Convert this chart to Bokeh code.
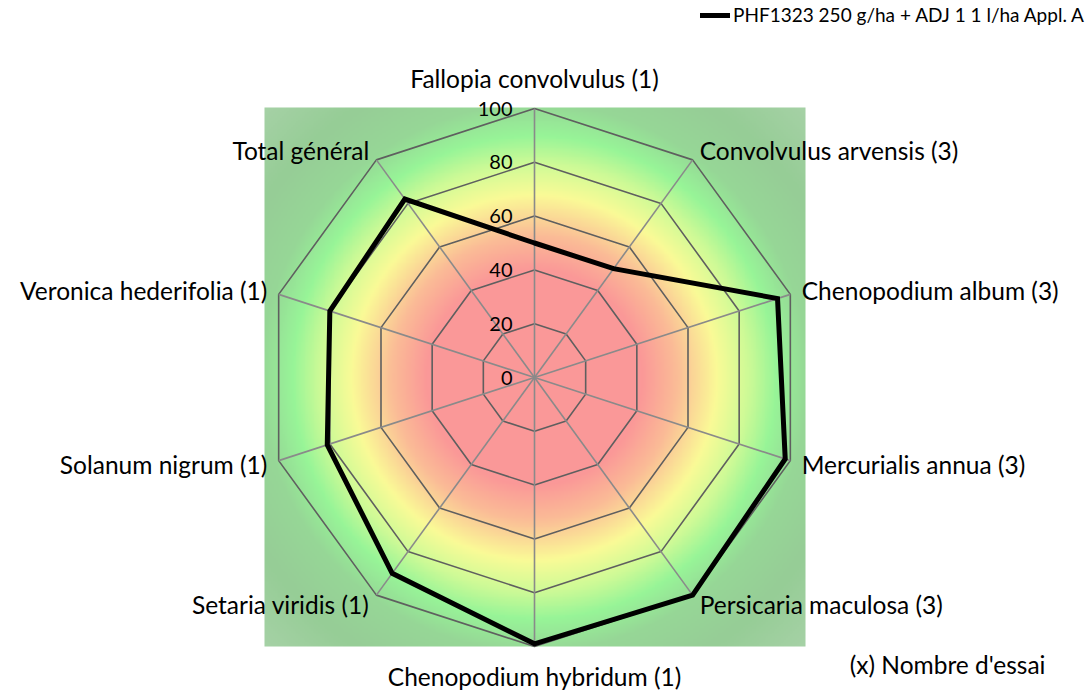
import numpy as np
from bokeh.plotting import figure
from bokeh.models import Range1d, Legend, LegendItem
from bokeh.core.properties import value
from bokeh.embed import file_html
from bokeh.resources import INLINE

# ---------------- data ----------------
categories = [
    "Fallopia convolvulus (1)",
    "Convolvulus arvensis (3)",
    "Chenopodium album (3)",
    "Mercurialis annua (3)",
    "Persicaria maculosa (3)",
    "Chenopodium hybridum (1)",
    "Setaria viridis (1)",
    "Solanum nigrum (1)",
    "Veronica hederifolia (1)",
    "Total général",
]
efficacy = [50, 50, 95, 98, 100, 99, 90, 81, 80, 82]
series_name = "PHF1323 250 g/ha + ADJ 1 1 l/ha Appl. A"
ring_levels = [20, 40, 60, 80, 100]
tick_labels = ["0", "20", "40", "60", "80", "100"]
note_text = "(x) Nombre d'essai"

# ---------------- geometry (picture pixel space) ----------------
W, H = 1088, 690
OFF = 0
CX, CY = 534.0, 377.0       # radar centre (px)
RPX = 269.0                 # pixels for value 100
S = 100.0 / RPX             # data units per pixel
FONT = "Lato"


def px(xr, yr):
    return (xr - CX) * S, (CY - yr) * S


x0, y1 = px(OFF, OFF)
x1, y0 = px(OFF + W, OFF + H)

p = figure(width=W, height=H, x_range=Range1d(x0, x1), y_range=Range1d(y0, y1),
           output_backend="svg", toolbar_location=None, min_border=0)
p.axis.visible = False
p.grid.visible = False
p.outline_line_color = None
p.background_fill_color = "white"
p.border_fill_color = "white"

# ---------------- radial gradient background ----------------
N = 300
gx0, gy0 = px(264, 646)
gx1, gy1 = px(805, 107)
xs_g = np.linspace(gx0, gx1, N)
ys_g = np.linspace(gy0, gy1, N)
XX, YY = np.meshgrid(xs_g, ys_g)
rr = np.sqrt(XX ** 2 + YY ** 2) / 100.0
stops = [0.0, 0.40, 0.53, 0.68, 0.80, 0.90, 1.02, 1.20, 1.45]
cols = np.array([
    (250, 152, 152), (250, 152, 152), (250, 188, 150), (250, 250, 150),
    (205, 250, 150), (152, 245, 152), (150, 215, 150), (150, 205, 150),
    (168, 210, 168)], dtype=float)
img = np.zeros((N, N), dtype=np.uint32)
view = img.view(dtype=np.uint8).reshape((N, N, 4))
for c in range(3):
    view[:, :, c] = np.interp(rr, stops, cols[:, c]).astype(np.uint8)
view[:, :, 3] = 255
p.image_rgba(image=[img], x=gx0, y=gy0, dw=gx1 - gx0, dh=gy1 - gy0)

# ---------------- grid ----------------
n = len(categories)
ang = np.array([i * 2 * np.pi / n for i in range(n)])
sx, cx_ = np.sin(ang), np.cos(ang)

ring_xs = [list(np.append(lv * sx, lv * sx[0])) for lv in ring_levels]
ring_ys = [list(np.append(lv * cx_, lv * cx_[0])) for lv in ring_levels]
p.multi_line(ring_xs, ring_ys, line_color="#5f5f5f", line_width=1.6)
p.segment(x0=[0] * n, y0=[0] * n, x1=list(100 * sx), y1=list(100 * cx_),
          line_color="#8a8a8a", line_width=1.6)

# ---------------- series ----------------
v = np.array(efficacy, dtype=float)
lx = list(np.append(v * sx, v[0] * sx[0]))
ly = list(np.append(v * cx_, v[0] * cx_[0]))
r = p.line(lx, ly, line_color="black", line_width=5, line_join="miter", line_cap="round")

# ---------------- tick labels ----------------
tick_vals = [0] + ring_levels
p.text(x=[-22 * S] * len(tick_vals), y=tick_vals, text=tick_labels,
       text_align="right", text_baseline="middle", text_font=value(FONT),
       text_font_size="20px", text_color="#000000")

# ---------------- category labels ----------------
lab_x, lab_y, aligns = [], [], []
for i in range(n):
    vx, vy = 100 * sx[i], 100 * cx_[i]
    if abs(sx[i]) < 1e-6:
        lab_x.append(vx)
        lab_y.append(vy + np.sign(cx_[i]) * 30 * S)
        aligns.append("center")
    else:
        lab_x.append(vx + 12 * sx[i] * S)
        lab_y.append(vy + 11 * cx_[i] * S)
        aligns.append("left" if sx[i] > 0 else "right")
p.text(x=lab_x, y=lab_y, text=categories, text_align=aligns, text_baseline="middle",
       text_font=value(FONT), text_font_size="24.5px", text_color="#000000")

# ---------------- note ----------------
nx, ny = px(1045, 664)
p.text(x=[nx], y=[ny], text=[note_text], text_align="right", text_baseline="middle",
       text_font=value(FONT), text_font_size="24.5px", text_color="#000000")

# ---------------- legend ----------------
legend = Legend(items=[LegendItem(label=series_name, renderers=[r])],
                location=(700, 664), orientation="horizontal",
                label_text_font=FONT, label_text_font_size="19px",
                label_text_color="#000000",
                glyph_width=30, glyph_height=20, label_standoff=3,
                padding=0, margin=0, spacing=0,
                border_line_alpha=0, background_fill_alpha=0)
p.add_layout(legend)

open("out.html", "w").write(file_html(p, INLINE))
